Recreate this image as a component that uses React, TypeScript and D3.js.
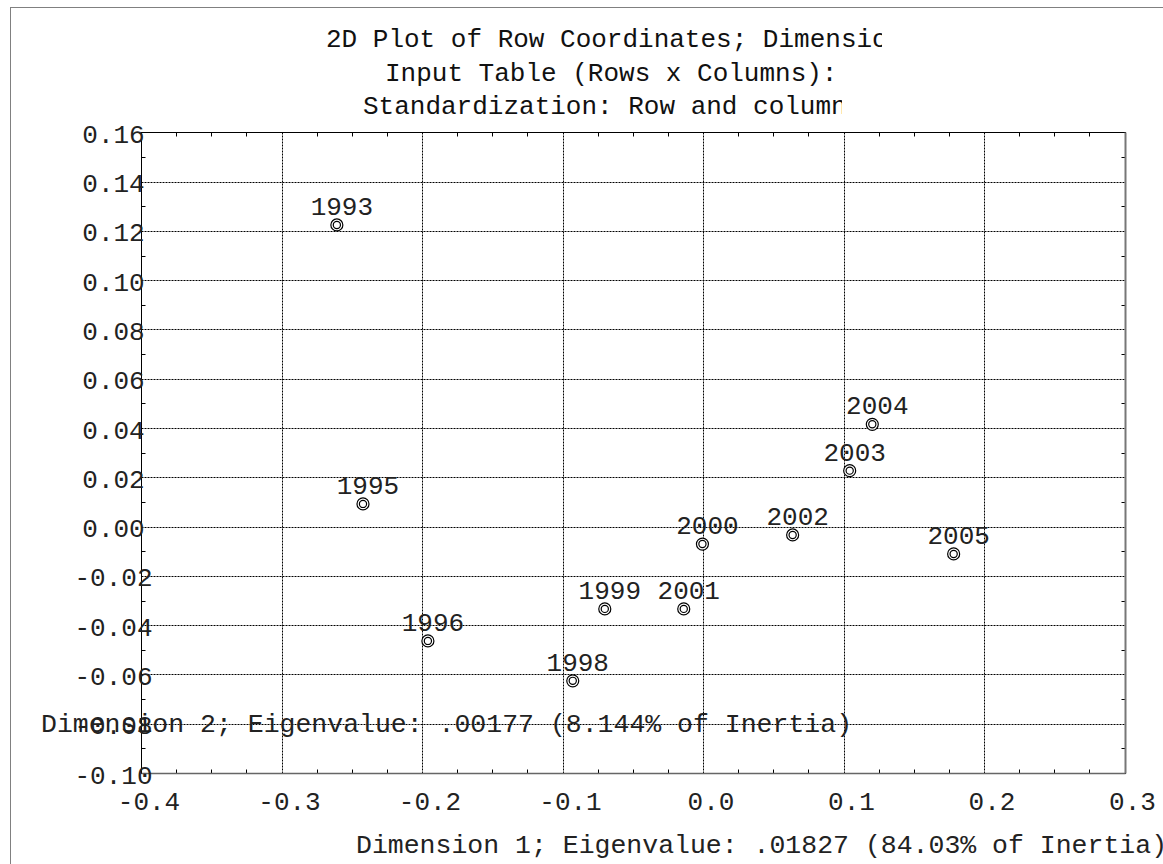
import React from "react";
import * as d3 from "d3";

// Row coordinates from the correspondence analysis (Dimension 1 vs Dimension 2)
const rowLabels = ["1993", "1995", "1996", "1998", "1999", "2000", "2001", "2002", "2003", "2004", "2005"];
const dim1 = [-0.2606, -0.242, -0.1958, -0.0927, -0.0699, -0.0004, -0.0137, 0.0638, 0.1044, 0.1205, 0.1784];
const dim2 = [0.1224, 0.0092, -0.0464, -0.0626, -0.0334, -0.0071, -0.0334, -0.0034, 0.0227, 0.0415, -0.0111];

const xTicks = [-0.4, -0.3, -0.2, -0.1, 0.0, 0.1, 0.2, 0.3];
const yTicks = [0.16, 0.14, 0.12, 0.1, 0.08, 0.06, 0.04, 0.02, 0.0, -0.02, -0.04, -0.06, -0.08, -0.1];

const titleLines = [
  "2D Plot of Row Coordinates; Dimensio",
  "Input Table (Rows x Columns):",
  "Standardization: Row and column",
];
const xAxisTitle = "Dimension 1; Eigenvalue: .01827 (84.03% of Inertia)";
const yAxisTitle = "Dimension 2; Eigenvalue: .00177 (8.144% of Inertia)";

const W = 1163;
const H = 864;
const FONT = "'Liberation Mono', 'Courier New', monospace";
const FS = 26;

const px = (v: number) => Math.round(v) + 0.5;

export default function App() {
  const left = 141;
  const right = 1124.5;
  const top = 132.3;
  const bottom = 773;

  const x = d3.scaleLinear().domain([-0.4, 0.3]).range([left, right]);
  const y = d3.scaleLinear().domain([-0.1, 0.16]).range([bottom, top]);

  const xMinor = d3.range(-0.4, 0.3001, 0.025).filter((v) => !xTicks.some((t) => Math.abs(t - v) < 1e-6));
  const yMinor = d3.range(-0.1, 0.1601, 0.01).filter((v) => !yTicks.some((t) => Math.abs(t - v) < 1e-6));

  const fmtX = (v: number) => d3.format(".1f")(v).replace("−", "-");
  const fmtY = (v: number) => d3.format(".2f")(v).replace("−", "-");

  const L = px(left);
  const R = px(right);
  const T = px(top);
  const B = px(bottom);

  return (
    <svg
      width={W}
      height={H}
      style={{ position: "absolute", left: 0, top: 0, background: "#fff" }}
      fontFamily={FONT}
    >
      <defs>
        <clipPath id="clipT1">
          <rect x={0} y={0} width={882} height={130} />
        </clipPath>
        <clipPath id="clipT3">
          <rect x={0} y={0} width={842} height={130} />
        </clipPath>
      </defs>
      <rect x={0} y={0} width={W} height={H} fill="#fff" />
      {/* outer frame */}
      <rect x={10.5} y={7.5} width={W + 20} height={H + 20} fill="none" stroke="#808080" strokeWidth={1} />

      {/* title */}
      <g fontSize={FS} fill="#111">
        <text x={326} y={47} clipPath="url(#clipT1)">{titleLines[0]}</text>
        <text x={385} y={81}>{titleLines[1]}</text>
        <text x={363} y={114} clipPath="url(#clipT3)">{titleLines[2]}</text>
      </g>

      {/* grid */}
      <g stroke="#000" strokeWidth={1} strokeDasharray="2,1">
        {xTicks.slice(1, -1).map((t) => (
          <line key={"gx" + t} x1={px(x(t))} x2={px(x(t))} y1={T} y2={B} />
        ))}
        {yTicks.slice(1, -1).map((t) => (
          <line key={"gy" + t} x1={L} x2={R} y1={px(y(t))} y2={px(y(t))} />
        ))}
      </g>

      {/* minor ticks */}
      <g stroke="#000" strokeWidth={1}>
        {xMinor.map((v) => (
          <g key={"mx" + v}>
            <line x1={px(x(v))} x2={px(x(v))} y1={B} y2={B - 4} />
            <line x1={px(x(v))} x2={px(x(v))} y1={T} y2={T + 4} />
          </g>
        ))}
        {yMinor.map((v) => (
          <g key={"my" + v}>
            <line x1={L} x2={L + 4} y1={px(y(v))} y2={px(y(v))} />
            <line x1={R} x2={R - 4} y1={px(y(v))} y2={px(y(v))} />
          </g>
        ))}
      </g>

      {/* plot frame */}
      <rect x={L} y={T} width={R - L} height={B - T} fill="none" stroke="#000" strokeWidth={1} />
      <line x1={R} x2={R} y1={T} y2={B} stroke="#777" strokeWidth={2} />
      <line x1={L} x2={R} y1={B} y2={B} stroke="#666" strokeWidth={1.5} />

      {/* tick labels */}
      <g fontSize={FS} fill="#222">
        {yTicks.map((t) => (
          <text key={"ty" + t} x={113.5} y={y(t) + 10.5} textAnchor="middle">
            {fmtY(t)}
          </text>
        ))}
        {xTicks.map((t) => (
          <text key={"tx" + t} x={x(t) + 8} y={810} textAnchor="middle">
            {fmtX(t)}
          </text>
        ))}
      </g>

      {/* axis titles */}
      <g fontSize={26.5} fill="#222">
        <text x={356} y={853}>{xAxisTitle}</text>
        <text x={41} y={732}>{yAxisTitle}</text>
      </g>

      {/* points */}
      <g>
        {rowLabels.map((lab, i) => (
          <g key={lab}>
            <circle cx={x(dim1[i])} cy={y(dim2[i])} r={6} fill="#fff" stroke="#000" strokeWidth={1.2} />
            <circle cx={x(dim1[i])} cy={y(dim2[i])} r={3.6} fill="none" stroke="#000" strokeWidth={1.2} />
            <text
              x={x(dim1[i]) + 5}
              y={y(dim2[i]) - 10}
              textAnchor="middle"
              fontSize={FS}
              fill="#222"
            >
              {lab}
            </text>
          </g>
        ))}
      </g>
    </svg>
  );
}
